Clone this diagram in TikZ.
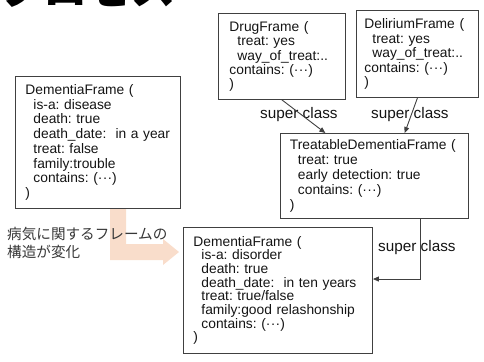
\documentclass[tikz,border=0pt]{standalone}
\usepackage{fontspec}
\setmainfont{Liberation Sans}
\newfontfamily\jpfont{Noto Sans CJK JP}
\usetikzlibrary{arrows.meta,calc}
\frenchspacing

\definecolor{edgegray}{RGB}{64,64,64}
\definecolor{inkgray}{RGB}{20,20,20}
\definecolor{notegray}{RGB}{55,55,55}
\definecolor{peach}{RGB}{249,221,203}

% midline ellipsis and slot indentation
\newcommand\midots{·\kern0.3pt·\kern0.3pt·}
\newcommand\slot{\hspace*{8pt}}

\tikzset{
  x=1pt, y=-1pt,
  frame/.style={draw=edgegray, line width=0.9pt, anchor=north west, align=left,
    text=inkgray, inner ysep=3pt},
  pitch/.style={font=\fontsize{13.8}{#1}\selectfont},
  lbl/.style={anchor=west, inner sep=0pt, text=inkgray,
    font=\fontsize{15.3}{16}\selectfont},
  conn/.style={draw=edgegray, line width=0.9pt,
    -{Triangle[length=6pt,width=5pt]}},
}

\begin{document}
\begin{tikzpicture}
\useasboundingbox (0,0) rectangle (484,361);

% heading, partly cut off by the page edge
\node[anchor=base west, inner sep=0pt, text=black,
  font=\jpfont\bfseries\fontsize{44}{44}\selectfont] (title) at (-1,5) {プロセス};

% bent change arrow (drawn under the caption)
\fill[peach] (110,208) -- (126,208) -- (126,244) -- (163,244) -- (163,239)
  -- (179,252) -- (163,265) -- (163,260) -- (110,260) -- cycle;

% frames
\node[frame, pitch=14.3, inner xsep=11pt, text width=105pt, minimum height=86pt]
  (drug) at (218,13)
  {DrugFrame (\\ \slot treat: yes\\ \slot way\_of\_treat:..\\contains: (\midots)\\)};

\node[frame, pitch=14.5, inner xsep=8pt, text width=106pt, minimum height=87pt]
  (delirium) at (356,10)
  {DeliriumFrame (\\ \slot treat: yes\\ \slot way\_of\_treat:..\\contains: (\midots)\\)};

\node[frame, pitch=14.7, inner xsep=10pt, text width=145pt, minimum height=132pt]
  (olddem) at (15,76)
  {DementiaFrame (\\ \slot is-a: disease\\ \slot death: true\\ \slot death\_date: \ in a year\\
   \slot treat: false\\ \slot family:trouble\\ \slot contains: (\midots)\\)};

\node[frame, pitch=15, inner xsep=9.5pt, text width=169pt, minimum height=85pt]
  (treatable) at (280,133)
  {TreatableDementiaFrame (\\ \slot treat: true\\ \slot early detection: true\\
   \slot contains: (\midots)\\)};

\node[frame, pitch=13.7, inner xsep=10pt, text width=169pt, minimum height=126pt]
  (newdem) at (183,227)
  {DementiaFrame (\\ \slot is-a: disorder\\ \slot death: true\\ \slot death\_date: \ in ten years\\
   \slot treat: true/false\\ \slot family:good relashonship\\ \slot contains: (\midots)\\)};

% caption beside the change arrow
\node[anchor=north west, inner sep=0pt, align=left, text=notegray,
  font=\jpfont\fontsize{14.6}{18}\selectfont] (caption) at (7,227)
  {病気に関するフレームの\\構造が変化};

% connector labels
\node[lbl] (sc1) at (260,115) {super class};
\node[lbl] (sc2) at (371,115) {super class};
\node[lbl] (sc3) at (378,248) {super class};

% connector end points on frame borders
\coordinate (tin1) at ($(treatable.north west)!0.24!(treatable.north east)$);
\coordinate (tin2) at ($(treatable.north west)!0.66!(treatable.north east)$);
\coordinate (tout) at ($(treatable.south west)!0.745!(treatable.south east)$);
\coordinate (nin)  at ($(newdem.north east)!0.41!(newdem.south east)$);

% super class links
\draw[conn] (drug.south) -- (tin1);
\draw[conn] (delirium.south) -- (tin2);
\draw[conn] (tout) |- (nin);
\end{tikzpicture}
\end{document}
